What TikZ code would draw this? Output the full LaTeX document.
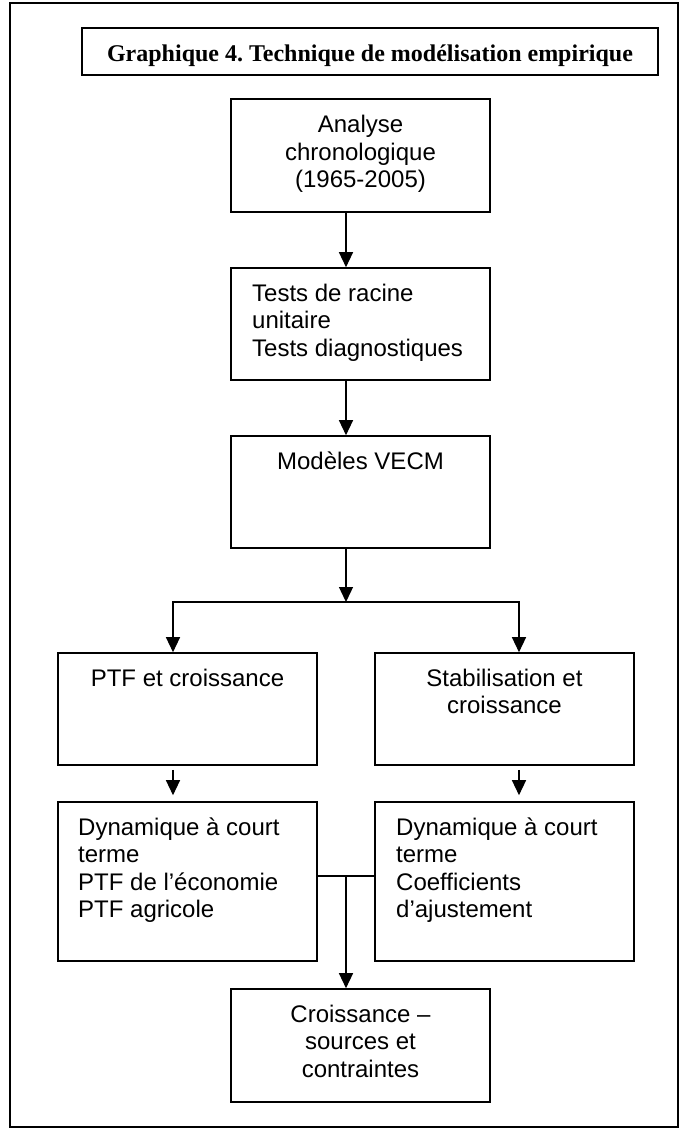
\documentclass[tikz,border=0pt]{standalone}
\usepackage{fontspec}
\setmainfont{Liberation Sans}
\newfontfamily\titlefont{Liberation Serif}
\usetikzlibrary{arrows.meta,calc}
\frenchspacing
\begin{document}
\begin{tikzpicture}[x=1pt,y=-1pt,
  box/.style={draw, line width=1.6pt, inner sep=0pt, minimum width=259pt, minimum height=112pt},
  txt/.style={font=\fontsize{24}{27.5}\selectfont, inner sep=0pt, anchor=base},
  ltxt/.style={txt, align=left, anchor=base west},
  ctxt/.style={txt, align=center},
  arr/.style={line width=1.3pt, -{Triangle[length=15pt,width=14pt]}},
  link/.style={line width=1.3pt}]
\useasboundingbox (0,0) rectangle (679,1128);
\draw[line width=2pt] (10,3) -- (678,3) -- (678,1127) -- (10,1127) -- cycle;

% title
\node[box, line width=1.8pt, minimum width=576pt, minimum height=47pt] (title) at (370,51.5) {};
\node[txt, font=\titlefont\bfseries\fontsize{24}{27.5}\selectfont] (ttitle) at (370,61) {Graphique 4. Technique de modélisation empirique};

% boxes (text nodes: anchor base = baseline of the last line)
\node[box, minimum height=113pt] (b1) at (360.5,155.5) {};
\node[ctxt] (t1) at (360.5,187.5) {Analyse\\chronologique\\(1965-2005)};

\node[box] (b2) at (360.5,324) {};
\node[ltxt] (t2) at (252,356) {Tests de racine\\unitaire\\Tests diagnostiques};

\node[box] (b3) at (360.5,492) {};
\node[ctxt] (t3) at (360.5,469) {Modèles VECM};

\node[box] (ptf) at (187.5,709) {};
\node[ctxt] (tptf) at (187.5,686) {PTF et croissance};

\node[box] (stab) at (504.5,709) {};
\node[ctxt] (tstab) at (504.5,713.5) {Stabilisation et\\croissance};

\node[box, minimum height=159pt] (dynl) at (187.5,881.5) {};
\node[ltxt] (tdynl) at (78,917.5) {Dynamique à court\\terme\\PTF de l’économie\\PTF agricole};

\node[box, minimum height=159pt] (dynr) at (504.5,881.5) {};
\node[ltxt] (tdynr) at (396,917.5) {Dynamique à court\\terme\\Coefficients\\d’ajustement};

\node[box, minimum height=113pt] (cr) at (360.5,1045.5) {};
\node[ctxt] (tcr) at (360.5,1077) {Croissance –\\sources et\\contraintes};

% connectors
\coordinate (spine) at (346,0);
\coordinate (lx) at (173,0);
\coordinate (rx) at (519,0);
\coordinate (j) at (346,602);
\coordinate (m) at (346,876);

\draw[arr] (b1.south -| spine) -- (b2.north -| spine);
\draw[arr] (b2.south -| spine) -- (b3.north -| spine);
\draw[arr] (b3.south -| spine) -- (j);
\draw[arr] (j) -| (ptf.north -| lx);
\draw[arr] (j) -| (stab.north -| rx);
\draw[arr] ($(ptf.south -| lx)+(0,4)$) -- ($(dynl.north -| lx)+(0,-6)$);
\draw[arr] ($(stab.south -| rx)+(0,4)$) -- ($(dynr.north -| rx)+(0,-6)$);
\draw[link] (dynl.east |- m) -- (dynr.west |- m);
\draw[arr] (m) -- (cr.north -| spine);
\end{tikzpicture}
\end{document}
